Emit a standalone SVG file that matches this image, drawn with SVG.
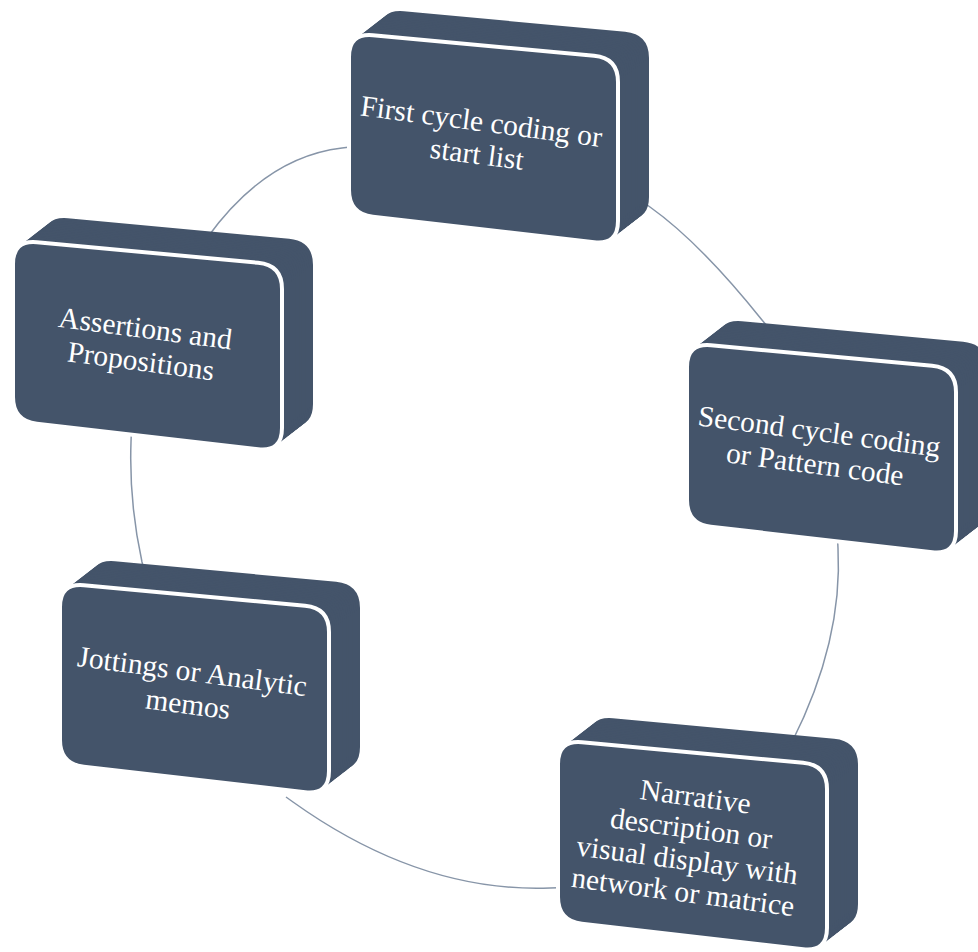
<svg xmlns="http://www.w3.org/2000/svg" xmlns:xlink="http://www.w3.org/1999/xlink" width="978" height="952" viewBox="0 0 978 952">
<style>
.conn{fill:none;stroke:#8795A8;stroke-width:1.5}
.body{fill:#44546A}
.front{fill:#44546A;stroke:#FFFFFF;stroke-width:4;stroke-linejoin:round}
.lbl{font-family:"Liberation Serif","Times New Roman",serif;font-size:29.5px;fill:#FFFFFF;text-anchor:middle}
</style>
<defs>
<path id="face" d="M23.9,2.22 L245.1,22.78 Q269,25 269,49 L269,188 Q269,212 245.16,209.25 L23.84,183.75 Q0,181 0,157 L0,24 Q0,0 23.9,2.22 Z"/>
<g id="body" class="body">
<use xlink:href="#face" x="31" y="-24"/>
<use xlink:href="#face" x="29.06" y="-22.5"/>
<use xlink:href="#face" x="27.13" y="-21"/>
<use xlink:href="#face" x="25.19" y="-19.5"/>
<use xlink:href="#face" x="23.25" y="-18"/>
<use xlink:href="#face" x="21.31" y="-16.5"/>
<use xlink:href="#face" x="19.38" y="-15"/>
<use xlink:href="#face" x="17.44" y="-13.5"/>
<use xlink:href="#face" x="15.5" y="-12"/>
<use xlink:href="#face" x="13.56" y="-10.5"/>
<use xlink:href="#face" x="11.63" y="-9"/>
<use xlink:href="#face" x="9.69" y="-7.5"/>
<use xlink:href="#face" x="7.75" y="-6"/>
<use xlink:href="#face" x="5.81" y="-4.5"/>
<use xlink:href="#face" x="3.88" y="-3"/>
<use xlink:href="#face" x="1.94" y="-1.5"/>
</g>
</defs>
<rect width="978" height="952" fill="#FFFFFF"/>
<g id="connectors">
<path class="conn" d="M643,202 L650,207 Q700,242.5 762,320 L767,326"/>
<path class="conn" d="M837.6,540 L838,548 Q843,641 792,742 L788,749"/>
<path class="conn" d="M558,887.7 L550,888 Q420.5,893 293,802 L286,797"/>
<path class="conn" d="M144,570 L142,562 Q128.9,502 131,442 L131.3,434"/>
<path class="conn" d="M202,245 L207,238 Q265.5,157 342,148 L350,147"/>
</g>
<g id="node1" transform="translate(349,33)">
<use xlink:href="#body"/>
<use xlink:href="#face" class="front"/>
<text class="lbl" transform="translate(130,106) rotate(7.5)"><tspan x="0" y="-8">First cycle coding or</tspan><tspan x="0" y="25">start list</tspan></text>
</g>
<g id="node2" transform="translate(13,240)">
<use xlink:href="#body"/>
<use xlink:href="#face" class="front"/>
<text class="lbl" transform="translate(130,106) rotate(7.5)"><tspan x="0" y="-8">Assertions and</tspan><tspan x="0" y="25">Propositions</tspan></text>
</g>
<g id="node3" transform="translate(687,343)">
<use xlink:href="#body"/>
<use xlink:href="#face" class="front"/>
<text class="lbl" transform="translate(130,106) rotate(7.5)"><tspan x="0" y="-8">Second cycle coding</tspan><tspan x="0" y="25">or Pattern code</tspan></text>
</g>
<g id="node4" transform="translate(558,740)">
<use xlink:href="#body"/>
<use xlink:href="#face" class="front"/>
<text class="lbl" transform="translate(131,106) rotate(7.5)"><tspan x="0" y="-40">Narrative</tspan><tspan x="0" y="-8">description or</tspan><tspan x="0" y="24">visual display with</tspan><tspan x="0" y="56">network or matrice</tspan></text>
</g>
<g id="node5" transform="translate(60,583)">
<use xlink:href="#body"/>
<use xlink:href="#face" class="front"/>
<text class="lbl" transform="translate(130,106) rotate(7.5)"><tspan x="0" y="-8">Jottings or Analytic</tspan><tspan x="0" y="25">memos</tspan></text>
</g>
</svg>
